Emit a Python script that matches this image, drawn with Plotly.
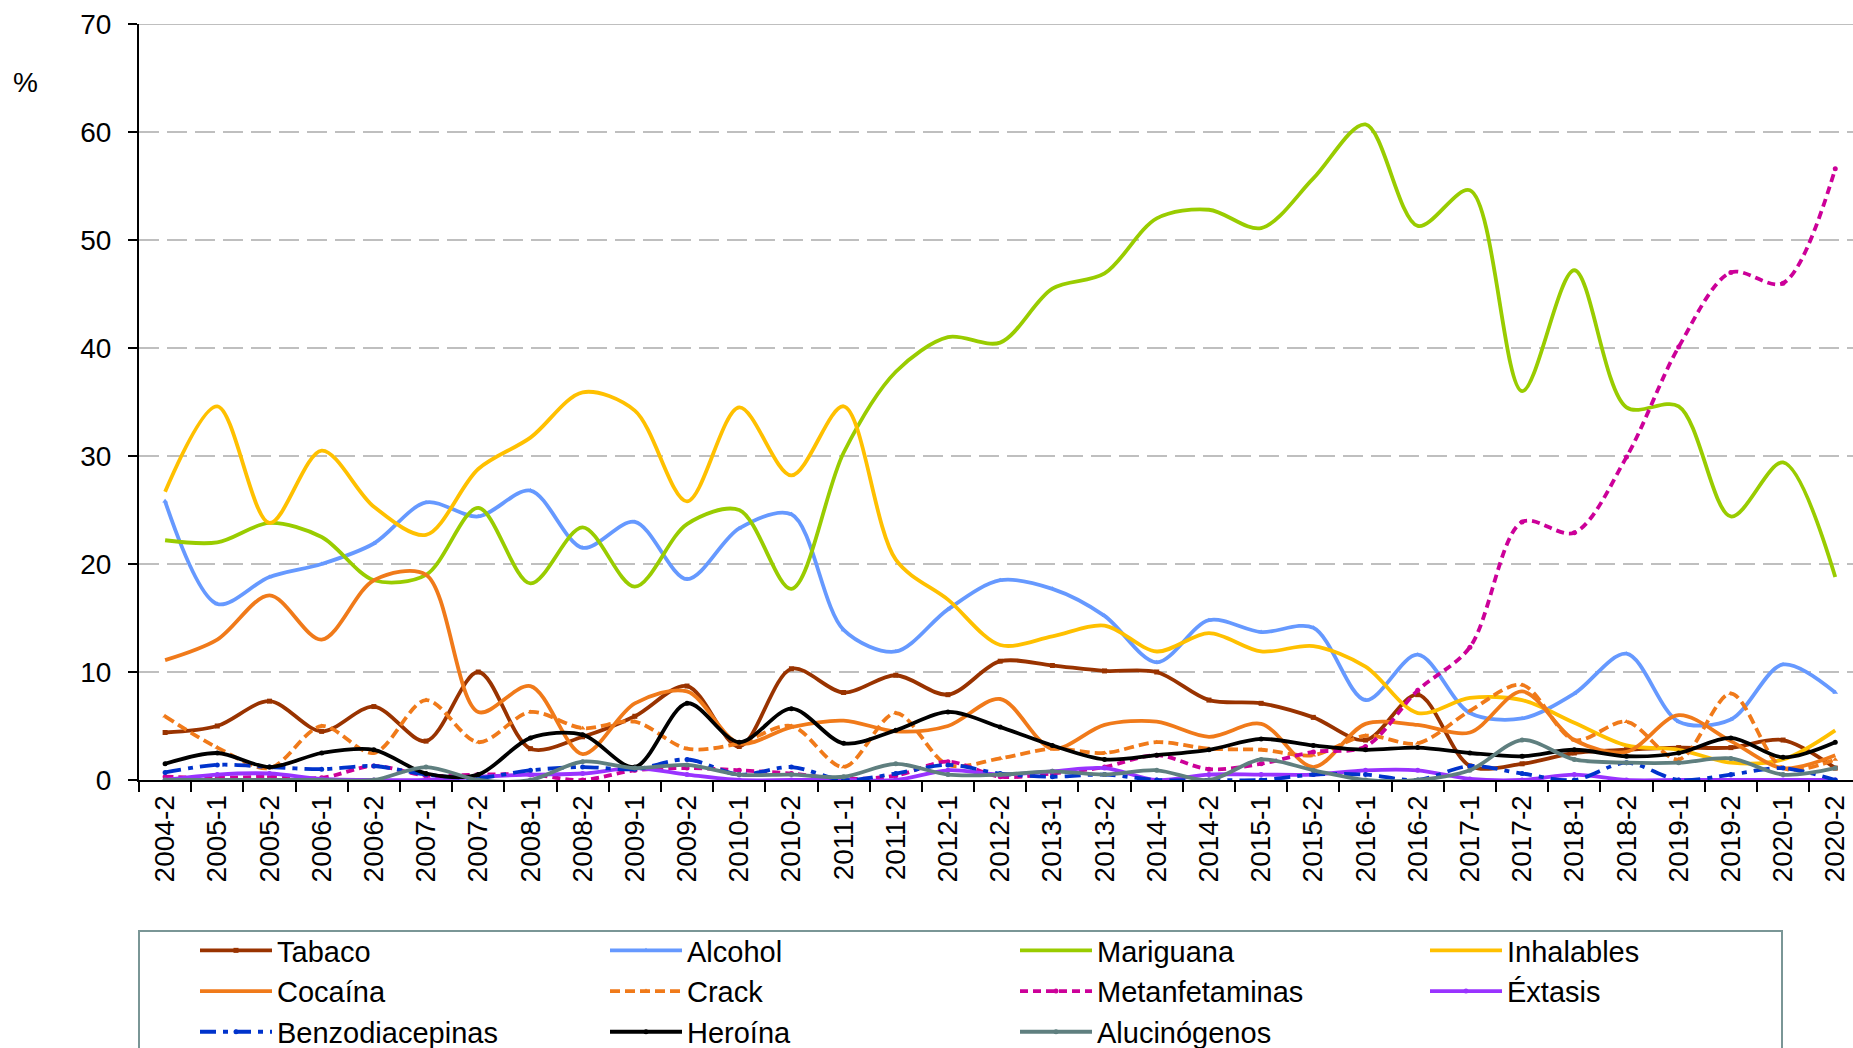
import plotly.graph_objects as go

categories = ["2004-2", "2005-1", "2005-2", "2006-1", "2006-2", "2007-1", "2007-2",
              "2008-1", "2008-2", "2009-1", "2009-2", "2010-1", "2010-2", "2011-1",
              "2011-2", "2012-1", "2012-2", "2013-1", "2013-2", "2014-1", "2014-2",
              "2015-1", "2015-2", "2016-1", "2016-2", "2017-1", "2017-2", "2018-1",
              "2018-2", "2019-1", "2019-2", "2020-1", "2020-2"]

tabaco = [4.4, 5.0, 7.3, 4.5, 6.8, 3.6, 10.0, 2.9, 4.0, 5.9, 8.7, 3.1, 10.3, 8.1, 9.7, 7.9, 11.0,
          10.6, 10.1, 10.0, 7.4, 7.1, 5.8, 3.7, 7.9, 1.3, 1.5, 2.5, 2.8, 3.0, 3.0, 3.7, 1.1]
alcohol = [25.8, 16.3, 18.8, 20.0, 21.9, 25.7, 24.4, 26.8, 21.5, 23.9, 18.6, 23.3, 24.6, 13.9, 11.9,
           15.8, 18.5, 17.7, 15.2, 10.9, 14.8, 13.7, 14.1, 7.4, 11.6, 6.2, 5.7, 8.0, 11.7, 5.4, 5.6,
           10.7, 8.1]
mariguana = [22.2, 22.0, 23.8, 22.5, 18.5, 19.0, 25.2, 18.2, 23.4, 17.9, 23.7, 25.0, 17.7, 30.3,
             37.8, 41.0, 40.5, 45.5, 46.9, 52.0, 52.8, 51.1, 55.7, 60.7, 51.3, 54.6, 36.0, 47.2,
             34.5, 34.6, 24.4, 29.4, 18.8]
inhalables = [26.7, 34.6, 23.8, 30.5, 25.3, 22.7, 28.8, 31.7, 35.9, 34.2, 25.8, 34.5, 28.2, 34.6,
              20.4, 16.7, 12.5, 13.3, 14.3, 11.9, 13.6, 11.9, 12.4, 10.5, 6.2, 7.6, 7.4, 5.3, 3.2,
              2.8, 1.6, 1.9, 4.6]
cocaina = [11.1, 13.0, 17.1, 13.0, 18.5, 19.0, 6.3, 8.7, 2.4, 7.1, 8.2, 3.4, 4.9, 5.5, 4.5, 5.0, 7.5,
           2.9, 5.1, 5.4, 4.0, 5.2, 1.2, 5.2, 5.1, 4.4, 8.2, 3.7, 2.6, 6.0, 3.6, 1.1, 2.3]
crack = [5.9, 3.0, 1.1, 5.0, 2.5, 7.4, 3.5, 6.3, 4.8, 5.4, 2.9, 3.4, 5.0, 1.2, 6.2, 1.4, 2.0, 2.9,
         2.5, 3.5, 2.9, 2.8, 2.3, 4.1, 3.4, 6.4, 8.8, 3.7, 5.4, 1.9, 8.0, 1.1, 1.9]
metanfetaminas = [0.3, 0.2, 0.3, 0.2, 1.3, 0.4, 0.5, 0.5, 0.0, 0.9, 1.1, 0.9, 0.6, 0.1, 0.4, 1.7,
                  0.3, 0.6, 1.2, 2.3, 1.0, 1.5, 2.6, 3.1, 8.3, 12.3, 23.9, 22.9, 29.9, 40.1, 47.0,
                  46.0, 56.6]
extasis = [0.0, 0.5, 0.6, 0.1, 0.0, 0.0, 0.3, 0.5, 0.6, 1.1, 0.5, 0.0, 0.0, 0.0, 0.0, 0.9, 0.5,
           0.8, 1.1, 0.0, 0.5, 0.5, 0.5, 0.9, 0.9, 0.1, 0.0, 0.5, 0.0, 0.0, 0.0, 0.0, 0.0]
benzodiacepinas = [0.7, 1.4, 1.2, 1.0, 1.3, 0.5, 0.2, 0.9, 1.2, 1.0, 1.9, 0.5, 1.2, 0.0, 0.6, 1.4,
                   0.6, 0.3, 0.5, 0.0, 0.0, 0.0, 0.5, 0.5, 0.0, 1.3, 0.6, 0.0, 1.6, 0.0, 0.5, 1.1,
                   0.0]
heroina = [1.5, 2.5, 1.2, 2.5, 2.8, 0.6, 0.5, 3.9, 4.2, 1.2, 7.1, 3.5, 6.6, 3.4, 4.6, 6.3, 4.9, 3.2,
           1.9, 2.3, 2.8, 3.8, 3.2, 2.8, 3.0, 2.5, 2.2, 2.8, 2.2, 2.5, 3.9, 2.1, 3.5]
alucinogenos = [0.0, 0.0, 0.0, 0.0, 0.0, 1.2, 0.0, 0.0, 1.7, 1.1, 1.4, 0.5, 0.5, 0.3, 1.5, 0.5,
                0.5, 0.8, 0.5, 0.9, 0.0, 1.9, 0.9, 0.0, 0.0, 0.9, 3.7, 1.9, 1.6, 1.6, 2.0, 0.5,
                1.1]

y_ticks = [0, 10, 20, 30, 40, 50, 60, 70]

series = [
    ("Tabaco", tabaco, "#993300", "solid", "square"),
    ("Alcohol", alcohol, "#6699FF", "solid", "triangle-up"),
    ("Mariguana", mariguana, "#99CC00", "solid", "line-ns"),
    ("Inhalables", inhalables, "#FFC000", "solid", "line-ns"),
    ("Cocaína", cocaina, "#F07A1A", "solid", "line-ns"),
    ("Crack", crack, "#F07A1A", "10px,5px", "triangle-up"),
    ("Metanfetaminas", metanfetaminas, "#CC0099", "8px,5px", "circle"),
    ("Éxtasis", extasis, "#9933FF", "solid", "circle"),
    ("Benzodiacepinas", benzodiacepinas, "#0033CC", "16px,7px,5px,7px", "circle"),
    ("Heroína", heroina, "black", "solid", "circle"),
    ("Alucinógenos", alucinogenos, "#5F7F7F", "solid", "circle"),
]

FONT = "Liberation Sans, Arial, sans-serif"

fig = go.Figure()
for name, vals, color, dash, sym in series:
    fig.add_trace(go.Scatter(
        x=categories, y=vals, name=name, mode="lines+markers",
        line=dict(color=color, width=3.8, dash=dash, shape="spline", smoothing=0.9),
        marker=dict(symbol=sym, size=5, color=color, line=dict(width=0)),
    ))

W, H = 1853, 1048
L, T, B = 139, 24, 268
plot_w = W - L
plot_h = H - T - B

def py(px):
    # pixel y (from top) to paper coordinate
    return (H - B - px) / plot_h

def pxx(px):
    return (px - L) / plot_w

fig.update_layout(
    width=W, height=H,
    margin=dict(l=L, r=0, t=T, b=B, autoexpand=False),
    plot_bgcolor="white", paper_bgcolor="white",
    font=dict(family=FONT, size=28, color="black"),
    showlegend=True,
    legend=dict(
        orientation="h", x=pxx(195), xanchor="left", y=py(925), yanchor="top",
        entrywidth=323, entrywidthmode="pixels", itemwidth=72,
        font=dict(family=FONT, size=29, color="black"),
        bgcolor="rgba(0,0,0,0)", borderwidth=0, tracegroupgap=0,
    ),
    xaxis=dict(
        type="category", categoryorder="array", categoryarray=categories,
        range=[-0.5, 32.34], tickson="boundaries", ticks="outside", ticklen=10,
        tickwidth=2, tickcolor="black", showline=True, linecolor="black", linewidth=2,
        showgrid=False, tickangle=-90, tickfont=dict(family=FONT, size=28),
        zeroline=False, ticklabelstandoff=2,
    ),
    yaxis=dict(
        range=[0, 70], tickvals=y_ticks, ticks="outside", ticklen=9, tickwidth=2,
        tickcolor="black", showline=True, linecolor="black", linewidth=2,
        showgrid=True, gridcolor="#BFBFBF", gridwidth=2, griddash="20px,8px",
        zeroline=False, tickfont=dict(family=FONT, size=28), ticklabelstandoff=11,
    ),
    annotations=[dict(text="%", xref="paper", yref="paper", x=pxx(25),
                      y=py(82), showarrow=False, xanchor="center", yanchor="middle",
                      font=dict(family=FONT, size=28, color="black"))],
    shapes=[
        dict(type="line", xref="paper", yref="y", x0=0, x1=1, y0=70, y1=70,
             line=dict(color="#BFBFBF", width=2), layer="below"),
        dict(type="rect", xref="paper", yref="paper", x0=0, x1=pxx(1782),
             y0=py(1060), y1=py(931), line=dict(color="#7A9696", width=2),
             fillcolor="rgba(0,0,0,0)"),
    ],
)

fig.write_html("out.html", config={"displayModeBar": False},
               post_script="document.body.style.margin='0px';document.body.style.overflow='hidden';")
